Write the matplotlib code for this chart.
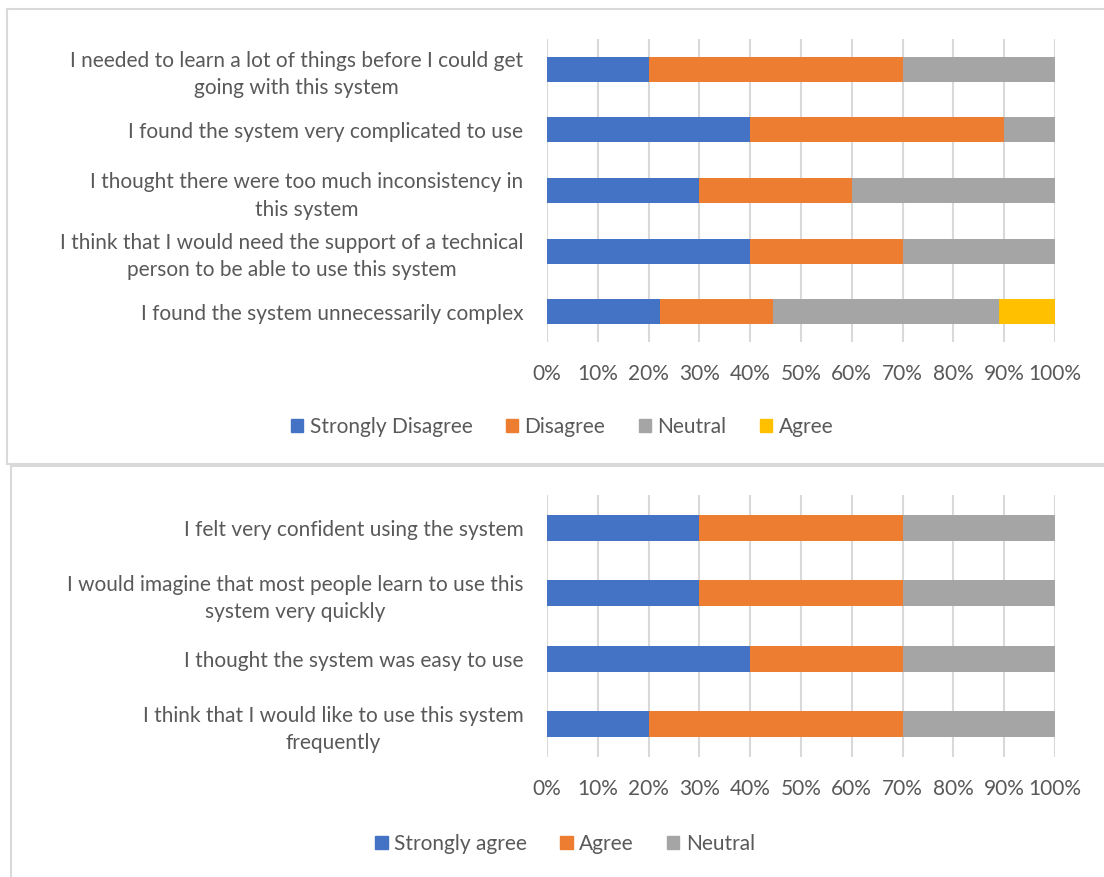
import matplotlib.pyplot as plt
import numpy as np
from matplotlib.lines import Line2D
from matplotlib.patches import Patch

plt.rcParams['font.family'] = ['Lato', 'DejaVu Sans']

TXT = '#595959'
GRID = '#D9D9D9'
BLUE, ORANGE, GRAY, GOLD = '#4472C4', '#ED7D31', '#A5A5A5', '#FFC000'

# top chart: negative statements (top to bottom)
neg_labels = [
    "I needed to learn a lot of things before I could get\ngoing with this system",
    "I found the system very complicated to use",
    "I thought there were too much inconsistency in\nthis system",
    "I think that I would need the support of a technical\nperson to be able to use this system",
    "I found the system unnecessarily complex",
]
neg_series = ["Strongly Disagree", "Disagree", "Neutral", "Agree"]
neg_sd = [20, 40, 30, 40, 22.2]
neg_d = [50, 50, 30, 30, 22.2]
neg_n = [30, 10, 40, 30, 44.5]
neg_a = [0, 0, 0, 0, 11.1]

# bottom chart: positive statements (top to bottom)
pos_labels = [
    "I felt very confident using the system",
    "I would imagine that most people learn to use this\nsystem very quickly",
    "I thought the system was easy to use",
    "I think that I would like to use this system\nfrequently",
]
pos_series = ["Strongly agree", "Agree", "Neutral"]
pos_sa = [30, 30, 40, 20]
pos_a = [40, 40, 30, 50]
pos_n = [30, 30, 30, 30]

W, H = 1104, 877
fig = plt.figure(figsize=(W / 100, H / 100), dpi=100)
FS = 15


def stacked(ax, labels, series, colors, height):
    y = np.arange(len(labels))
    left = np.zeros(len(labels))
    for vals, c in zip(series, colors):
        vals = np.array(vals, dtype=float)
        ax.barh(y, vals, left=left, height=height, color=c, zorder=3)
        left += vals
    ax.set_ylim(len(labels) - 0.5, -0.5)
    ax.set_xlim(0, 100)
    ax.set_yticks(y)
    ax.set_yticklabels(labels, ma='center', fontsize=FS, color=TXT, linespacing=1.45)
    ax.set_xticks(np.arange(0, 101, 10))
    ax.set_xticklabels([f"{v}%" for v in range(0, 101, 10)], fontsize=FS, color=TXT)
    ax.tick_params(axis='y', length=0, pad=17)
    ax.tick_params(axis='x', length=0, pad=16)
    ax.grid(axis='x', color=GRID, linewidth=1.5, zorder=0)
    for s in ax.spines.values():
        s.set_visible(False)


ax1 = fig.add_axes([547 / W, 1 - 342 / H, 508 / W, 303 / H])
stacked(ax1, neg_labels, [neg_sd, neg_d, neg_n, neg_a], [BLUE, ORANGE, GRAY, GOLD], 0.41)

ax2 = fig.add_axes([547 / W, 1 - 757 / H, 508 / W, 262 / H])
stacked(ax2, pos_labels, [pos_sa, pos_a, pos_n], [BLUE, ORANGE, GRAY], 0.40)

h1 = [Patch(color=c, label=l) for c, l in zip([BLUE, ORANGE, GRAY, GOLD], neg_series)]
fig.legend(handles=h1, loc='center', bbox_to_anchor=(562 / W, 1 - 427 / H), ncol=4,
           frameon=False, fontsize=FS, labelcolor=TXT, handlelength=0.6, handleheight=0.6,
           handletextpad=0.3, columnspacing=1.6)
h2 = [Patch(color=c, label=l) for c, l in zip([BLUE, ORANGE, GRAY], pos_series)]
fig.legend(handles=h2, loc='center', bbox_to_anchor=(565 / W, 1 - 844 / H), ncol=3,
           frameon=False, fontsize=FS, labelcolor=TXT, handlelength=0.6, handleheight=0.6,
           handletextpad=0.3, columnspacing=1.6)

# chart frames
for xs, ys in [([7, 7], [9, 464]), ([7, W], [9, 9]), ([7, W], [464, 464]),
               ([11, 11], [466, H]), ([11, W], [466, 466])]:
    fig.add_artist(Line2D([x / W for x in xs], [1 - v / H for v in ys],
                          color=GRID, linewidth=1.5))

fig.savefig('out.png', dpi=100)
